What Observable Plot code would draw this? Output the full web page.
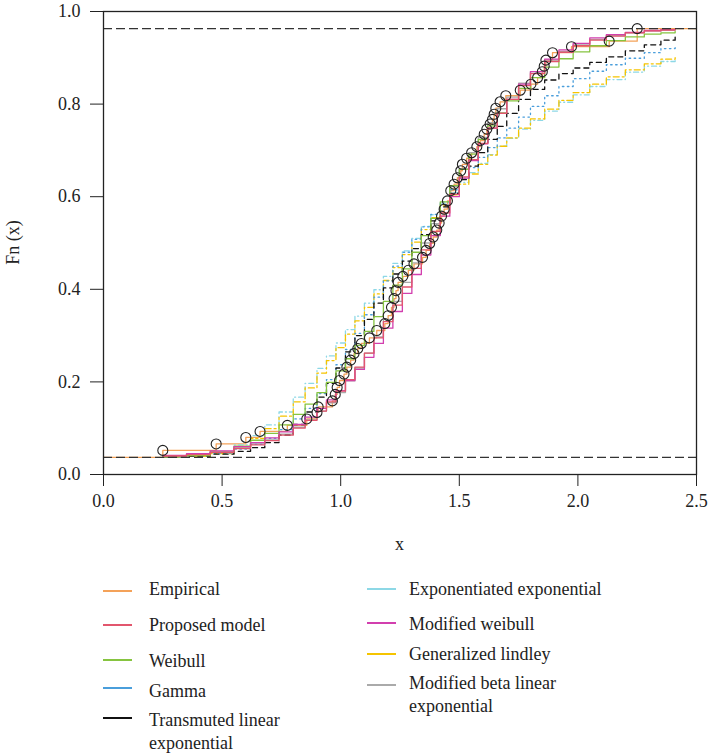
<!DOCTYPE html>
<html><head><meta charset="utf-8">
<script src="https://cdn.jsdelivr.net/npm/d3@7"></script>
<script src="https://cdn.jsdelivr.net/npm/@observablehq/plot@0.6"></script>
<style>
body{margin:0;background:#fff;}
#wrap{position:relative;width:709px;height:756px;font-family:"Liberation Serif",serif;color:#222;}
.lg{position:absolute;font-size:18px;line-height:20px;white-space:nowrap;}
.lg2{line-height:23px;}
.sw{position:absolute;height:2px;width:29px;}
</style></head>
<body><div id="wrap"><div id="chart"></div></div>
<script>
// Empirical data (circles)
const empX = [0.25,0.475,0.60,0.66,0.775,0.857,0.90,0.905,0.965,0.977,0.985,0.995,1.014,1.026,1.042,1.056,1.072,1.087,1.121,1.152,1.186,1.200,1.214,1.225,1.233,1.242,1.262,1.285,1.309,1.345,1.36,1.375,1.39,1.405,1.415,1.425,1.436,1.450,1.464,1.478,1.492,1.506,1.513,1.531,1.552,1.574,1.588,1.605,1.616,1.630,1.640,1.647,1.654,1.672,1.696,1.757,1.802,1.83,1.85,1.858,1.865,1.893,1.973,2.132,2.25];
const empF = [0.052,0.066,0.080,0.093,0.106,0.120,0.134,0.146,0.159,0.173,0.188,0.203,0.217,0.232,0.247,0.261,0.272,0.283,0.295,0.311,0.326,0.343,0.361,0.380,0.397,0.415,0.428,0.441,0.455,0.469,0.484,0.499,0.513,0.528,0.543,0.558,0.573,0.591,0.613,0.627,0.641,0.656,0.670,0.683,0.695,0.708,0.721,0.735,0.746,0.757,0.767,0.778,0.791,0.805,0.818,0.830,0.843,0.857,0.870,0.882,0.895,0.911,0.924,0.936,0.963];
const ecdfStart = [0.0, 0.037];
const ecdfEnd = [2.5, 0.963];
const refLines = [0.037, 0.963];

// Grid at which fitted CDFs are drawn
const gridX = [0.25,0.35,0.45,0.55,0.62,0.68,0.74,0.80,0.85,0.90,0.94,0.98,1.02,1.06,1.10,1.14,1.18,1.22,1.26,1.30,1.34,1.38,1.42,1.46,1.50,1.54,1.58,1.62,1.66,1.70,1.75,1.80,1.86,1.92,1.98,2.05,2.12,2.20,2.28,2.35,2.41];

const proposed = [0.040,0.043,0.048,0.056,0.064,0.073,0.085,0.100,0.117,0.137,0.157,0.180,0.205,0.232,0.262,0.295,0.330,0.366,0.405,0.445,0.485,0.525,0.565,0.605,0.643,0.680,0.715,0.748,0.780,0.810,0.840,0.866,0.892,0.912,0.926,0.938,0.947,0.954,0.958,0.960,0.962];
const weibull = [0.038,0.041,0.048,0.061,0.074,0.089,0.107,0.130,0.152,0.177,0.199,0.224,0.250,0.279,0.309,0.341,0.374,0.409,0.444,0.480,0.516,0.553,0.589,0.624,0.659,0.692,0.724,0.753,0.781,0.807,0.834,0.857,0.880,0.898,0.913,0.926,0.937,0.945,0.951,0.954,0.957];
const gamma = [0.038,0.041,0.046,0.055,0.065,0.078,0.097,0.120,0.143,0.175,0.205,0.237,0.270,0.305,0.345,0.383,0.418,0.450,0.480,0.508,0.535,0.562,0.589,0.615,0.640,0.663,0.685,0.706,0.727,0.748,0.772,0.795,0.818,0.838,0.855,0.871,0.885,0.899,0.911,0.920,0.927];
const transmuted = [0.038,0.040,0.044,0.050,0.058,0.069,0.085,0.108,0.135,0.167,0.197,0.230,0.265,0.300,0.335,0.370,0.403,0.433,0.461,0.488,0.518,0.548,0.578,0.607,0.637,0.666,0.695,0.724,0.752,0.780,0.810,0.832,0.852,0.866,0.878,0.890,0.902,0.915,0.928,0.938,0.946];
const expExp = [0.037,0.039,0.047,0.064,0.084,0.107,0.135,0.167,0.197,0.229,0.256,0.284,0.313,0.342,0.370,0.399,0.428,0.456,0.483,0.510,0.536,0.561,0.586,0.609,0.631,0.652,0.672,0.691,0.709,0.726,0.746,0.765,0.785,0.804,0.820,0.838,0.853,0.869,0.882,0.892,0.900];
const modWeibull = [0.041,0.045,0.051,0.060,0.069,0.079,0.092,0.108,0.124,0.143,0.161,0.181,0.203,0.227,0.253,0.283,0.316,0.352,0.391,0.432,0.474,0.516,0.558,0.600,0.640,0.678,0.714,0.748,0.780,0.810,0.843,0.870,0.897,0.917,0.931,0.943,0.950,0.955,0.959,0.961,0.962];
const genLindley = [0.037,0.039,0.045,0.060,0.078,0.099,0.126,0.157,0.187,0.219,0.246,0.274,0.303,0.332,0.361,0.390,0.419,0.447,0.475,0.502,0.529,0.555,0.580,0.604,0.627,0.649,0.670,0.690,0.709,0.727,0.748,0.768,0.789,0.808,0.825,0.843,0.859,0.874,0.887,0.897,0.905];
const modBetaLE = [0.040,0.044,0.050,0.058,0.066,0.075,0.087,0.102,0.118,0.137,0.155,0.177,0.202,0.230,0.262,0.297,0.335,0.374,0.415,0.457,0.500,0.542,0.583,0.622,0.660,0.695,0.728,0.760,0.790,0.815,0.845,0.870,0.895,0.914,0.928,0.940,0.948,0.954,0.958,0.960,0.961];

const xTicks = [0, 0.5, 1.0, 1.5, 2.0, 2.5];
const yTicks = [0, 0.2, 0.4, 0.6, 0.8, 1.0];

const C = {
  emp: "#F4A259", prop: "#E2566D", weib: "#86C440", gam: "#4A9EDB", trans: "#111111",
  ee: "#8DD8E6", mw: "#D23FAE", gl: "#F5C400", mble: "#AAAAAA"
};

const models = [
  {vals: modBetaLE, color: C.mble, dash: null},
  {vals: expExp, color: C.ee, dash: "1,3,5,3"},
  {vals: genLindley, color: C.gl, dash: "2,3,6,3"},
  {vals: gamma, color: C.gam, dash: "1.5,3.5"},
  {vals: transmuted, color: C.trans, dash: "5,4"},
  {vals: weibull, color: C.weib, dash: null},
  {vals: modWeibull, color: C.mw, dash: null},
  {vals: proposed, color: C.prop, dash: null}
];

const empPts = empX.map((x, i) => ({x, y: empF[i]}));
const empLine = [{x: ecdfStart[0], y: ecdfStart[1]}, ...empPts, {x: ecdfEnd[0], y: ecdfEnd[1]}];

const marks = [
  Plot.line(empLine, {x: "x", y: "y", stroke: C.emp, strokeWidth: 1.3, curve: "step-after"}),
  ...models.map(m => Plot.line(gridX.map((x, i) => ({x, y: m.vals[i]})), {
    x: "x", y: "y", stroke: m.color, strokeWidth: 1.3, curve: "step-after",
    strokeDasharray: m.dash || undefined
  })),
  Plot.ruleY(refLines, {stroke: "#333", strokeWidth: 1.2, strokeDasharray: "9,4"}),
  Plot.dot(empPts, {x: "x", y: "y", r: 5, stroke: "#222", strokeWidth: 1.1, fill: "none"}),
  Plot.frame({stroke: "#222", strokeWidth: 1.3})
];

const chart = Plot.plot({
  width: 709, height: 560,
  marginLeft: 103, marginRight: 13, marginTop: 11, marginBottom: 86,
  x: {domain: [0, 2.5], ticks: xTicks, tickFormat: d => d.toFixed(1), tickSize: 12, tickPadding: 8, label: null},
  y: {domain: [0, 1], ticks: yTicks, tickFormat: d => d.toFixed(1), tickSize: 13, tickPadding: 10, label: null},
  style: {fontFamily: "'Liberation Serif', serif", fontSize: "18px", color: "#222", background: "#fff"},
  marks
});
document.getElementById("chart").appendChild(chart);

const svg = d3.select(chart);
svg.append("text").attr("x", 399.5).attr("y", 550).attr("text-anchor", "middle")
  .attr("fill", "#222").style("font-size", "18px").text("x");
svg.append("text").attr("transform", "translate(19,242.5) rotate(-90)").attr("text-anchor", "middle")
  .attr("fill", "#222").style("font-size", "18px").text("Fn (x)");

// Legend
const legendItems = [
  {label: "Empirical", color: C.emp, lx: 103, ly: 590, tx: 149, ty: 579},
  {label: "Proposed model", color: C.prop, lx: 103, ly: 624, tx: 149, ty: 615},
  {label: "Weibull", color: C.weib, lx: 103, ly: 659, tx: 149, ty: 651},
  {label: "Gamma", color: C.gam, lx: 103, ly: 687, tx: 149, ty: 681},
  {label: "Transmuted linear<br>exponential", color: C.trans, lx: 103, ly: 717, tx: 149, ty: 709, two: true},
  {label: "Exponentiated exponential", color: C.ee, lx: 367, ly: 588, tx: 409, ty: 579},
  {label: "Modified weibull", color: C.mw, lx: 367, ly: 622, tx: 409, ty: 614},
  {label: "Generalized lindley", color: C.gl, lx: 367, ly: 653, tx: 409, ty: 644},
  {label: "Modified beta linear<br>exponential", color: C.mble, lx: 367, ly: 684, tx: 409, ty: 672, two: true}
];
const wrap = document.getElementById("wrap");
legendItems.forEach(it => {
  const sw = document.createElement("div");
  sw.className = "sw";
  sw.style.left = it.lx + "px"; sw.style.top = it.ly + "px"; sw.style.background = it.color;
  wrap.appendChild(sw);
  const t = document.createElement("div");
  t.className = "lg" + (it.two ? " lg2" : "");
  t.style.left = it.tx + "px"; t.style.top = it.ty + "px";
  t.innerHTML = it.label;
  wrap.appendChild(t);
});
</script>
</body></html>
